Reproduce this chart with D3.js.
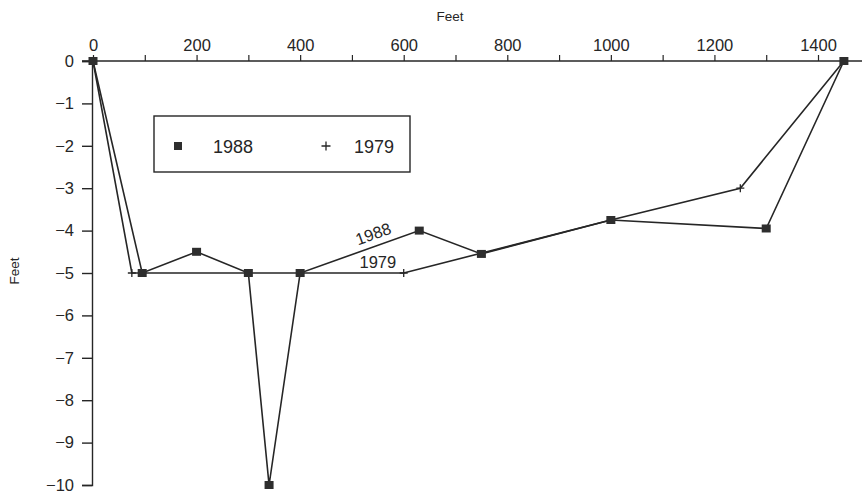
<!DOCTYPE html>
<html>
<head>
<meta charset="utf-8">
<script src="https://cdn.jsdelivr.net/npm/d3@7"></script>
<style>
  html, body { margin: 0; padding: 0; background: #fff; }
  svg { display: block; font-family: "Liberation Sans", Arial, sans-serif; }
</style>
</head>
<body>
<svg id="chart" width="864" height="497"></svg>
<script>
// Channel cross-section: distance across (feet) vs depth (feet)
const survey1988X = [0, 95, 200, 300, 340, 400, 630, 750, 1000, 1300, 1450];
const survey1988Y = [0, -5, -4.5, -5, -10, -5, -4, -4.55, -3.75, -3.95, 0];
const survey1979X = [0, 75, 600, 1000, 1250, 1450];
const survey1979Y = [0, -5, -5, -3.75, -3, 0];
const xTickValues = [0, 200, 400, 600, 800, 1000, 1200, 1400];
const xMinorValues = [100, 300, 500, 700, 900, 1100, 1300];
const yTickValues = [0, -1, -2, -3, -4, -5, -6, -7, -8, -9, -10];
const seriesNames = ["1988", "1979"];

const ink = "#262626";
const svg = d3.select("#chart");

const x = d3.scaleLinear().domain([0, 1400]).range([93, 818]);
const y = d3.scaleLinear().domain([0, -10]).range([61, 485]);
const minus = v => (v < 0 ? "\u2212" + Math.abs(v) : String(v));

// top axis line spanning the plot width
svg.append("line")
  .attr("x1", 82).attr("x2", 862)
  .attr("y1", y(0)).attr("y2", y(0))
  .attr("stroke", ink).attr("stroke-width", 1.4);

// x axis (labels above)
const xAxis = svg.append("g").attr("transform", `translate(0,${y(0)})`)
  .call(d3.axisTop(x).tickValues(xTickValues).tickSize(6).tickPadding(4).tickFormat(d => d));
xAxis.select(".domain").remove();
xAxis.selectAll("line").attr("stroke", ink).attr("stroke-width", 1.2);
xAxis.selectAll("text").attr("fill", ink).attr("font-size", 16.5);

const xMinor = svg.append("g").attr("transform", `translate(0,${y(0)})`)
  .call(d3.axisTop(x).tickValues(xMinorValues).tickSize(6).tickFormat(""));
xMinor.select(".domain").remove();
xMinor.selectAll("line").attr("stroke", ink).attr("stroke-width", 1.2);

// y axis
const yAxis = svg.append("g").attr("transform", `translate(${x(0) - 1},0)`)
  .call(d3.axisLeft(y).tickValues(yTickValues).tickSize(10).tickPadding(8).tickFormat(minus));
yAxis.select(".domain").attr("stroke", ink).attr("stroke-width", 1.4);
yAxis.selectAll("line").attr("stroke", ink).attr("stroke-width", 1.4);
yAxis.selectAll("text").attr("fill", ink).attr("font-size", 16.5);

// axis titles
svg.append("text").attr("x", 450).attr("y", 21).attr("text-anchor", "middle")
  .attr("font-size", 13.5).attr("fill", ink).text("Feet");
svg.append("text").attr("transform", "translate(19,271) rotate(-90)")
  .attr("text-anchor", "middle").attr("font-size", 13.5).attr("fill", ink).text("Feet");

// series lines
const line = d3.line().x(d => x(d[0])).y(d => y(d[1]));
const pts1988 = survey1988X.map((v, i) => [v, survey1988Y[i]]);
const pts1979 = survey1979X.map((v, i) => [v, survey1979Y[i]]);

svg.append("path").datum(pts1979).attr("d", line)
  .attr("fill", "none").attr("stroke", ink).attr("stroke-width", 1.6);
svg.append("path").datum(pts1988).attr("d", line)
  .attr("fill", "none").attr("stroke", ink).attr("stroke-width", 1.6);

// markers: plus for 1979, filled square for 1988
svg.selectAll(".p79").data(pts1979).join("path")
  .attr("transform", d => `translate(${x(d[0])},${y(d[1])})`)
  .attr("d", "M-4,0H4M0,-4V4")
  .attr("stroke", ink).attr("stroke-width", 1.3).attr("fill", "none");
svg.selectAll(".p88").data(pts1988).join("rect")
  .attr("x", d => x(d[0]) - 4.5).attr("y", d => y(d[1]) - 4)
  .attr("width", 9).attr("height", 8).attr("fill", "#2e2e2e");

// inline series labels, the 1988 one set along its rising segment
const a = pts1988[5], b = pts1988[6];
const ang = Math.atan2(y(b[1]) - y(a[1]), x(b[0]) - x(a[0])) * 180 / Math.PI;
const lx = 545;
const ly = a[1] + (b[1] - a[1]) * (lx - a[0]) / (b[0] - a[0]);
svg.append("text")
  .attr("transform", `translate(${x(lx)},${y(ly) - 7}) rotate(${ang})`)
  .attr("text-anchor", "middle").attr("font-size", 16.5).attr("fill", ink).text(seriesNames[0]);
svg.append("text")
  .attr("x", x(550)).attr("y", y(-5) - 5)
  .attr("text-anchor", "middle").attr("font-size", 16.5).attr("fill", ink).text(seriesNames[1]);

// legend
const lg = svg.append("g");
lg.append("rect").attr("x", 154).attr("y", 116).attr("width", 256).attr("height", 56)
  .attr("fill", "none").attr("stroke", ink).attr("stroke-width", 1.4);
lg.append("rect").attr("x", 174).attr("y", 142).attr("width", 8).attr("height", 8).attr("fill", "#2e2e2e");
lg.append("text").attr("x", 213).attr("y", 153).attr("font-size", 18).attr("fill", ink).text(seriesNames[0]);
lg.append("path").attr("transform", "translate(326,146)").attr("d", "M-4.5,0H4.5M0,-4.5V4.5")
  .attr("stroke", ink).attr("stroke-width", 1.3);
lg.append("text").attr("x", 354).attr("y", 153).attr("font-size", 18).attr("fill", ink).text(seriesNames[1]);
</script>
</body>
</html>
